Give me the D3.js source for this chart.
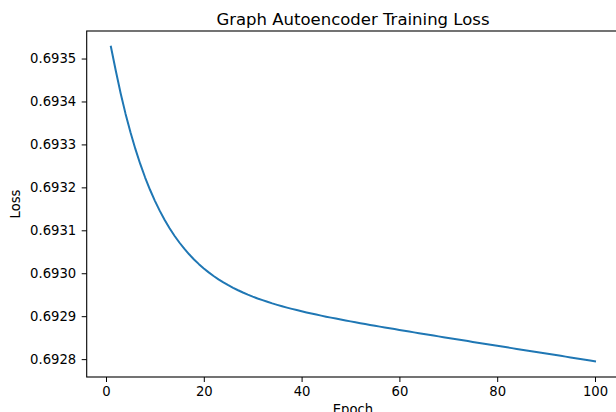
<!DOCTYPE html>
<html>
<head>
<meta charset="utf-8">
<script src="https://cdn.jsdelivr.net/npm/d3@7/dist/d3.min.js"></script>
<style>
  html, body { margin: 0; padding: 0; background: #fff; }
  svg { display: block; }
  text { font-family: "DejaVu Sans", sans-serif; fill: #000; }
</style>
</head>
<body>
<div id="chart"></div>
<script>
const title = "Graph Autoencoder Training Loss";
const xLabel = "Epoch";
const yLabel = "Loss";

const epochs = d3.range(1, 101);
const lossValues = [
  0.6935275, 0.6934714, 0.6934187, 0.6933711, 0.6933282, 0.6932895, 0.6932545, 0.6932229, 0.6931944, 0.6931686,
  0.6931452, 0.6931240, 0.6931048, 0.6930874, 0.6930716, 0.6930572, 0.6930441, 0.6930321, 0.6930212, 0.6930112,
  0.6930020, 0.6929936, 0.6929859, 0.6929788, 0.6929722, 0.6929661, 0.6929604, 0.6929551, 0.6929502, 0.6929456,
  0.6929413, 0.6929373, 0.6929335, 0.6929298, 0.6929264, 0.6929231, 0.6929200, 0.6929170, 0.6929142, 0.6929114,
  0.6929087, 0.6929062, 0.6929037, 0.6929013, 0.6928989, 0.6928966, 0.6928944, 0.6928922, 0.6928900, 0.6928879,
  0.6928858, 0.6928837, 0.6928817, 0.6928797, 0.6928777, 0.6928757, 0.6928737, 0.6928718, 0.6928699, 0.6928680,
  0.6928661, 0.6928642, 0.6928623, 0.6928604, 0.6928586, 0.6928567, 0.6928548, 0.6928530, 0.6928512, 0.6928493,
  0.6928475, 0.6928456, 0.6928438, 0.6928420, 0.6928401, 0.6928383, 0.6928365, 0.6928346, 0.6928328, 0.6928310,
  0.6928292, 0.6928274, 0.6928256, 0.6928238, 0.6928220, 0.6928202, 0.6928184, 0.6928166, 0.6928148, 0.6928130,
  0.6928112, 0.6928094, 0.6928076, 0.6928058, 0.6928040, 0.6928022, 0.6928004, 0.6927986, 0.6927968, 0.6927950
];
const xTicks = [0, 20, 40, 60, 80, 100];
const yTicks = [0.6928, 0.6929, 0.6930, 0.6931, 0.6932, 0.6933, 0.6934, 0.6935];

const W = 616, H = 412;
const mLeft = 86.7, mTop = 31, mRight = 619.2, mBottom = 377;

// matplotlib-style 5% margins
const xExt = d3.extent(epochs), xPad = (xExt[1] - xExt[0]) * 0.05;
const yExt = d3.extent(lossValues), yPad = (yExt[1] - yExt[0]) * 0.05;

const x = d3.scaleLinear().domain([xExt[0] - xPad, xExt[1] + xPad]).range([mLeft, mRight]);
const y = d3.scaleLinear().domain([yExt[0] - yPad, yExt[1] + yPad]).range([mBottom, mTop]);

const svg = d3.select("#chart").append("svg").attr("width", W).attr("height", H);

svg.append("defs").append("clipPath").attr("id", "clip")
  .append("rect").attr("x", mLeft).attr("y", mTop).attr("width", mRight - mLeft).attr("height", mBottom - mTop);

// line
svg.append("path")
  .datum(epochs.map((e, i) => [e, lossValues[i]]))
  .attr("clip-path", "url(#clip)")
  .attr("fill", "none")
  .attr("stroke", "#1f77b4")
  .attr("stroke-width", 2)
  .attr("stroke-linejoin", "round")
  .attr("stroke-linecap", "square")
  .attr("d", d3.line().x(d => x(d[0])).y(d => y(d[1])));

// axes
const xAxis = d3.axisBottom(x).tickValues(xTicks).tickFormat(d3.format("d")).tickSizeInner(5).tickSizeOuter(0).tickPadding(5);
const yAxis = d3.axisLeft(y).tickValues(yTicks).tickFormat(d3.format(".4f")).tickSizeInner(5).tickSizeOuter(0).tickPadding(5.5);

const gx = svg.append("g").attr("transform", `translate(0,${mBottom})`).call(xAxis);
const gy = svg.append("g").attr("transform", `translate(${mLeft},0)`).call(yAxis);
[gx, gy].forEach(g => {
  g.select(".domain").remove();
  g.selectAll(".tick line").attr("stroke", "#000").attr("stroke-width", 1);
  g.selectAll(".tick text").attr("font-size", 13.2).attr("fill", "#000").style("font-family", "DejaVu Sans");
});

// frame (spines)
svg.append("rect")
  .attr("x", mLeft).attr("y", mTop)
  .attr("width", mRight - mLeft).attr("height", mBottom - mTop)
  .attr("fill", "none").attr("stroke", "#000").attr("stroke-width", 1.1);

// title
svg.append("text")
  .attr("x", (mLeft + mRight) / 2).attr("y", 24.5)
  .attr("text-anchor", "middle")
  .attr("font-size", 16.5)
  .text(title);

// axis labels
svg.append("text")
  .attr("x", (mLeft + mRight) / 2).attr("y", 414)
  .attr("text-anchor", "middle")
  .attr("font-size", 13.2)
  .text(xLabel);

svg.append("text")
  .attr("transform", `translate(20,${(mTop + mBottom) / 2}) rotate(-90)`)
  .attr("text-anchor", "middle")
  .attr("font-size", 13.2)
  .text(yLabel);
</script>
</body>
</html>
